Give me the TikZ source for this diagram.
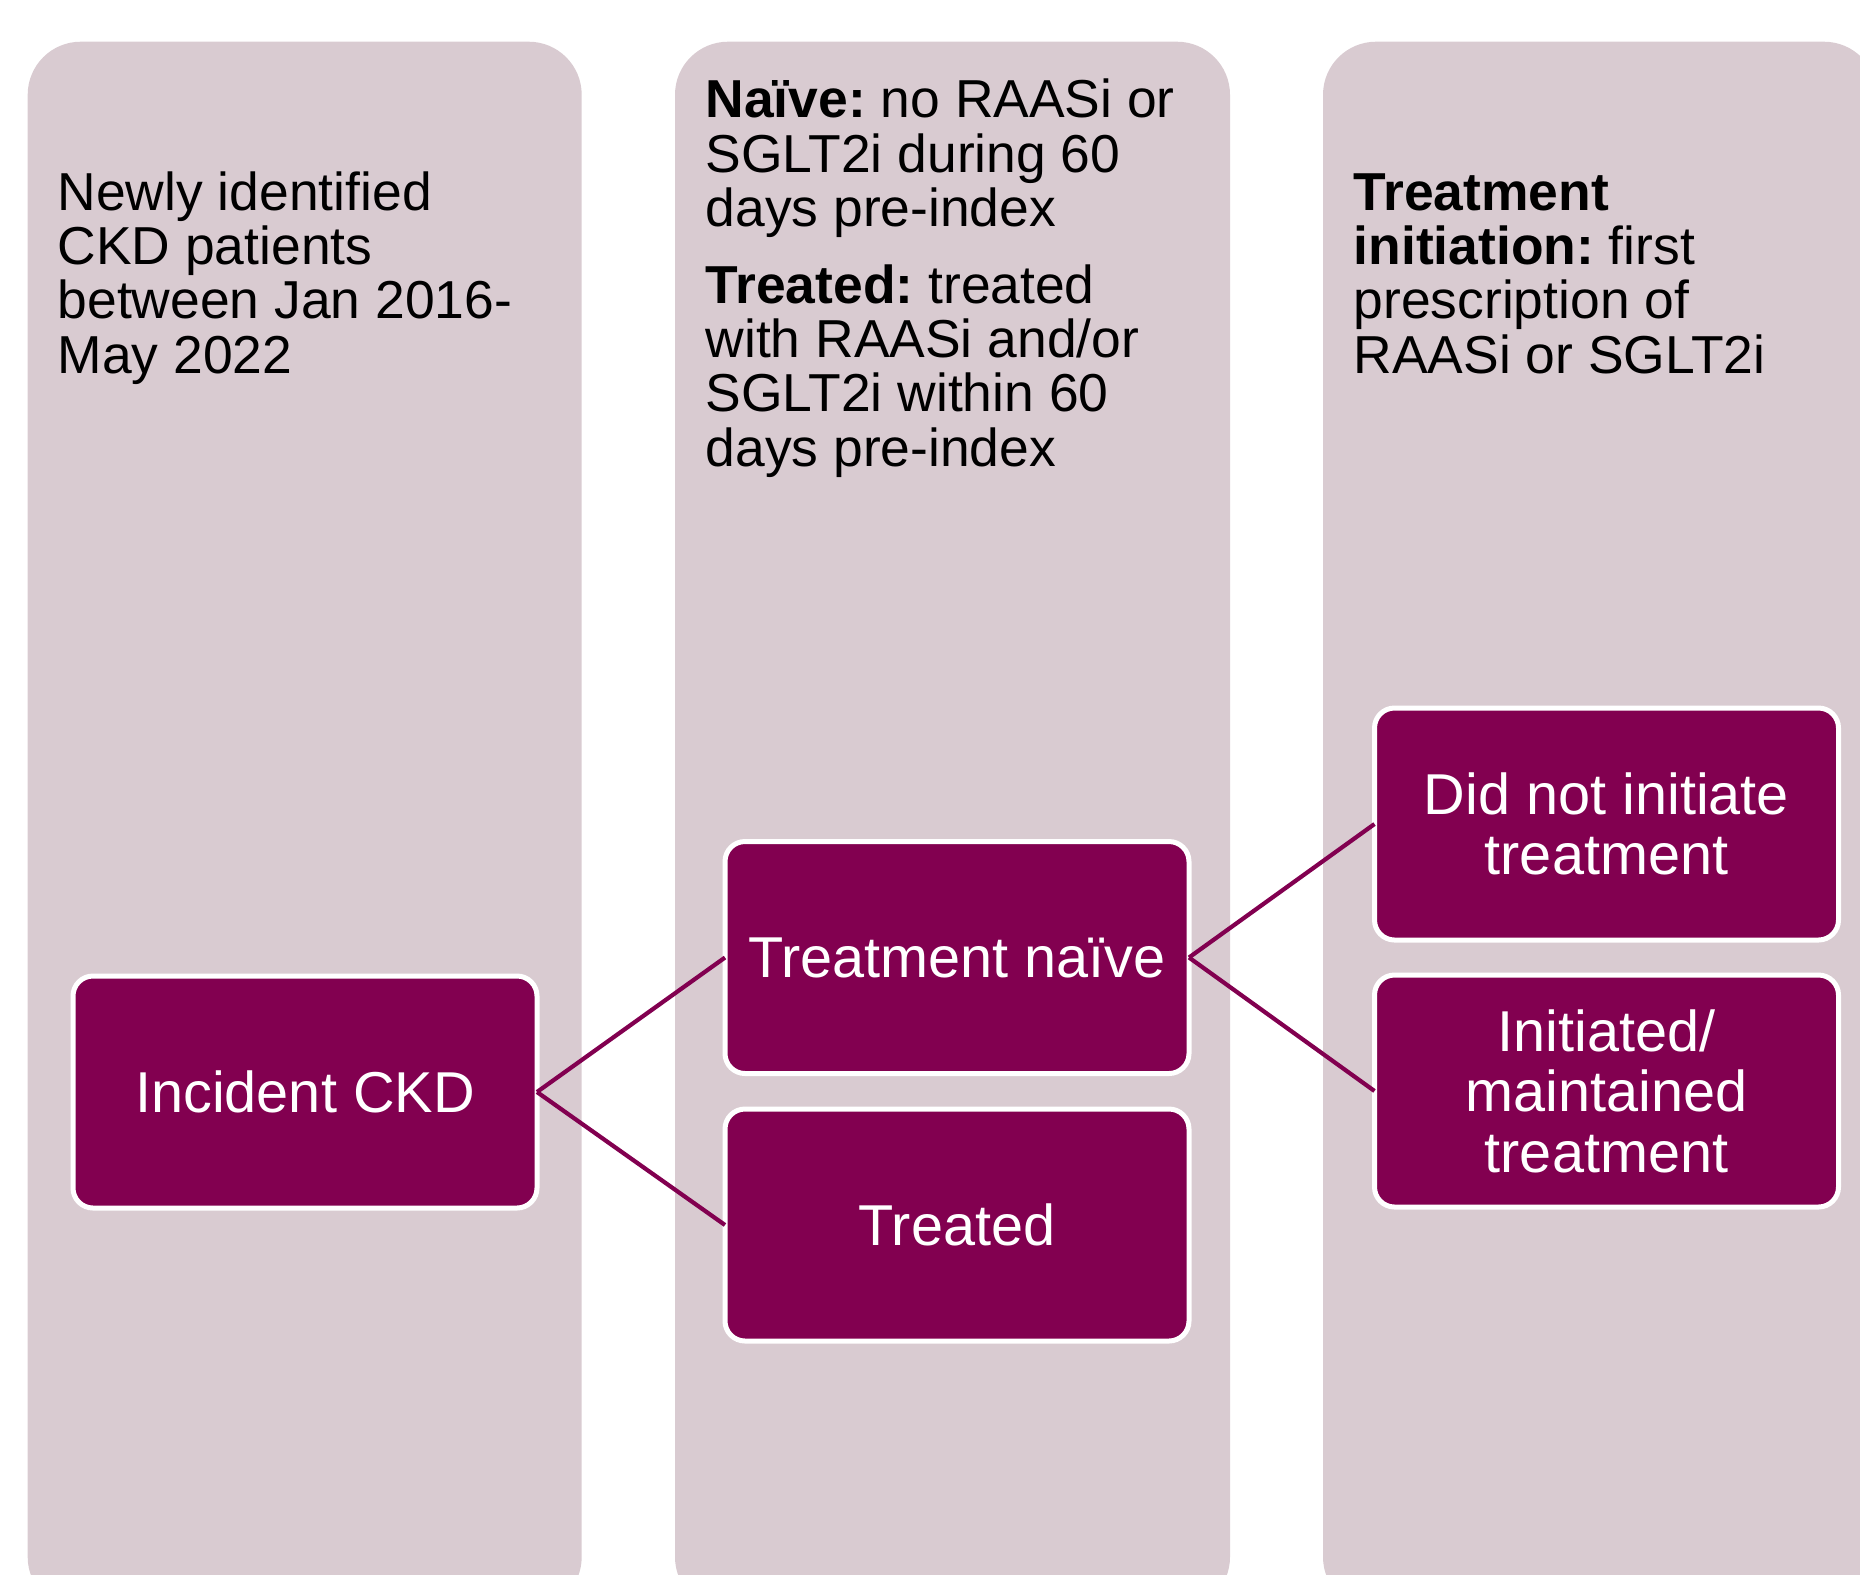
\documentclass[tikz,border=0pt]{standalone}
\usepackage{fontspec}
\setmainfont{Liberation Sans}
\usetikzlibrary{positioning}
\definecolor{berry}{RGB}{130,0,80}
\definecolor{mauve}{RGB}{217,203,209}

\begin{document}
\frenchspacing
\begin{tikzpicture}[x=.1mm,y=-.1mm,
  lane/.style={fill=mauve,rounded corners=5.3mm},
  box/.style={draw=white,line width=.5mm,fill=berry,text=white,rounded corners=2mm,outer sep=0pt,
    minimum width=46.4mm,minimum height=23.2mm,align=center,font=\fontsize{16.4}{17.2}\selectfont},
  note/.style={anchor=base west,inner sep=0pt,align=left,font=\fontsize{15.2}{15.45}\selectfont},
  link/.style={draw=berry,line width=.42mm}]
  \clip (0,0) rectangle (1860,1574);
  % three lanes
  \fill[lane] (27.7,41.7) rectangle (581.7,1610);
  \fill[lane] (675,41.7) rectangle (1230,1610);
  \fill[lane] (1323,41.7) rectangle (1877,1610);
  % lane texts (anchored on their last line)
  \node[note] (lead) at (57,373) {Newly identified\\CKD patients\\between Jan 2016-\\May 2022};
  \node[note] (defs) at (705,466) {\textbf{Naïve:} no RAASi or\\SGLT2i during 60\\days pre-index\\[.225cm]\textbf{Treated:} treated\\with RAASi and/or\\SGLT2i within 60\\days pre-index};
  \node[note] (rule) at (1353,373) {\textbf{Treatment}\\\textbf{initiation:} first\\prescription of\\RAASi or SGLT2i};
  % boxes
  \node[box] (ckd) at (305,1092) {Incident CKD};
  \node[box] (naive) at (957,957.5) {Treatment naïve};
  \node[box] (treated) at (957,1225) {Treated};
  \node[box] (noinit) at (1606.5,824) {Did not initiate\\treatment};
  \node[box] (init) at (1606.5,1091) {Initiated/\\maintained\\treatment};
  \draw[link] (ckd.east) -- (naive.west);\draw[link] (ckd.east) -- (treated.west);
  \draw[link] (naive.east) -- (noinit.west);\draw[link] (naive.east) -- (init.west);
\end{tikzpicture}
\end{document}
